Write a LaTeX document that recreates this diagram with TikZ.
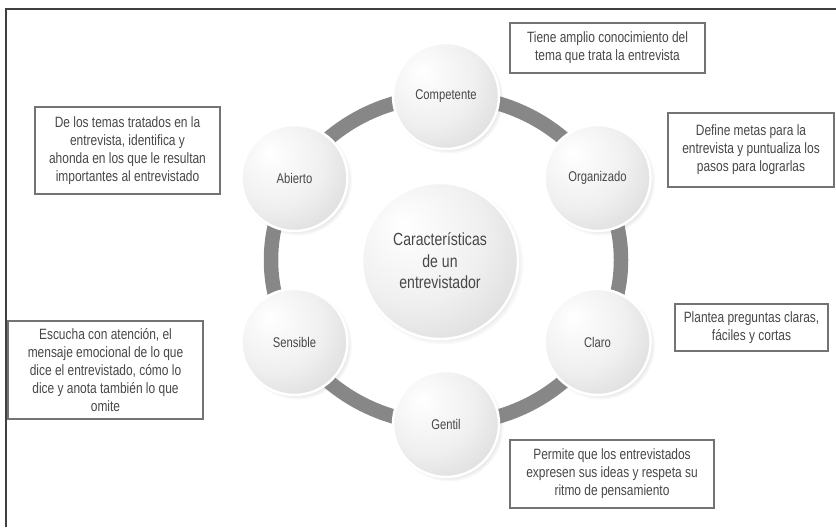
\documentclass[tikz,border=0pt]{standalone}
\usepackage{fontspec}
\setmainfont{Liberation Sans}[FakeStretch=0.8]
\usetikzlibrary{shadows,calc}

\newcommand{\etiqueta}{\fontsize{8}{9.6}\selectfont}
\newcommand{\nota}{\fontsize{8.5}{10.2}\selectfont}
\newcommand{\centro}{\fontsize{10}{12.3}\selectfont}

\pgfdeclareradialshading{esfera}{\pgfpoint{-12bp}{12bp}}{%
  color(0bp)=(white); color(22bp)=(black!6); color(44bp)=(black!17);
  color(52bp)=(black!26); color(75bp)=(black!26)}

\tikzset{
  bola/.style={circle, shading=esfera, draw=white, line width=1.4pt,
    circular drop shadow={fill=black!50, opacity=0.3,
      shadow xshift=0.05cm, shadow yshift=-0.05cm, shadow scale=1.04},
    text=black!72, align=center},
  chica/.style={bola, minimum size=2.12cm, font=\etiqueta},
  grande/.style={bola, minimum size=3.12cm, font=\centro},
  nota/.style={draw=black!55, line width=0.8pt, align=center,
    text=black!72, font=\nota, inner sep=2pt}
}

\begin{document}
\begin{tikzpicture}
  \useasboundingbox (0, 0) rectangle (16.72, 10.54);

  % marco
  \draw[black!75, line width=0.8pt] (0.12, 0) |- (16.72, 10.36);

  % anillo
  \coordinate (c) at (8.92, 5.34);
  \draw[black!47, line width=0.29cm] (c) ellipse (3.5 and 3.28);

  % centro
  \node[grande] (centro) at (8.8, 5.32)
    {Características\\de un\\entrevistador};

  % esferas
  \node[chica] (competente) at ($(c)+(90:3.5 and 3.28)$) {Competente};
  \node[chica] (organizado) at ($(c)+(30:3.5 and 3.28)$) {Organizado};
  \node[chica] (claro) at ($(c)+(-30:3.5 and 3.28)$) {Claro};
  \node[chica] (gentil) at ($(c)+(-90:3.5 and 3.28)$) {Gentil};
  \node[chica] (sensible) at ($(c)+(210:3.5 and 3.28)$) {Sensible};
  \node[chica] (abierto) at ($(c)+(150:3.5 and 3.28)$) {Abierto};

  % notas
  \node[nota, minimum width=3.9cm, minimum height=1.0cm] (notaCompetente)
    at (12.15, 9.58)
    {Tiene amplio conocimiento del\\tema que trata la entrevista};
  \node[nota, minimum width=3.32cm, minimum height=1.48cm] (notaOrganizado)
    at (15.02, 7.54)
    {Define metas para la\\entrevista y puntualiza los\\pasos para lograrlas};
  \node[nota, minimum width=3.06cm, minimum height=0.94cm] (notaClaro)
    at (15.03, 3.99)
    {Plantea preguntas claras,\\fáciles y cortas};
  \node[nota, minimum width=4.08cm, minimum height=1.36cm] (notaGentil)
    at (12.24, 1.06)
    {Permite que los entrevistados\\expresen sus ideas y respeta su\\ritmo de pensamiento};
  \node[nota, minimum width=3.9cm, minimum height=1.96cm] (notaSensible)
    at (2.11, 3.14)
    {Escucha con atención, el\\mensaje emocional de lo que\\dice el entrevistado, cómo lo\\dice y anota también lo que\\omite};
  \node[nota, minimum width=3.7cm, minimum height=1.74cm] (notaAbierto)
    at (2.55, 7.53)
    {De los temas tratados en la\\entrevista, identifica y\\ahonda en los que le resultan\\importantes al entrevistado};
\end{tikzpicture}
\end{document}
